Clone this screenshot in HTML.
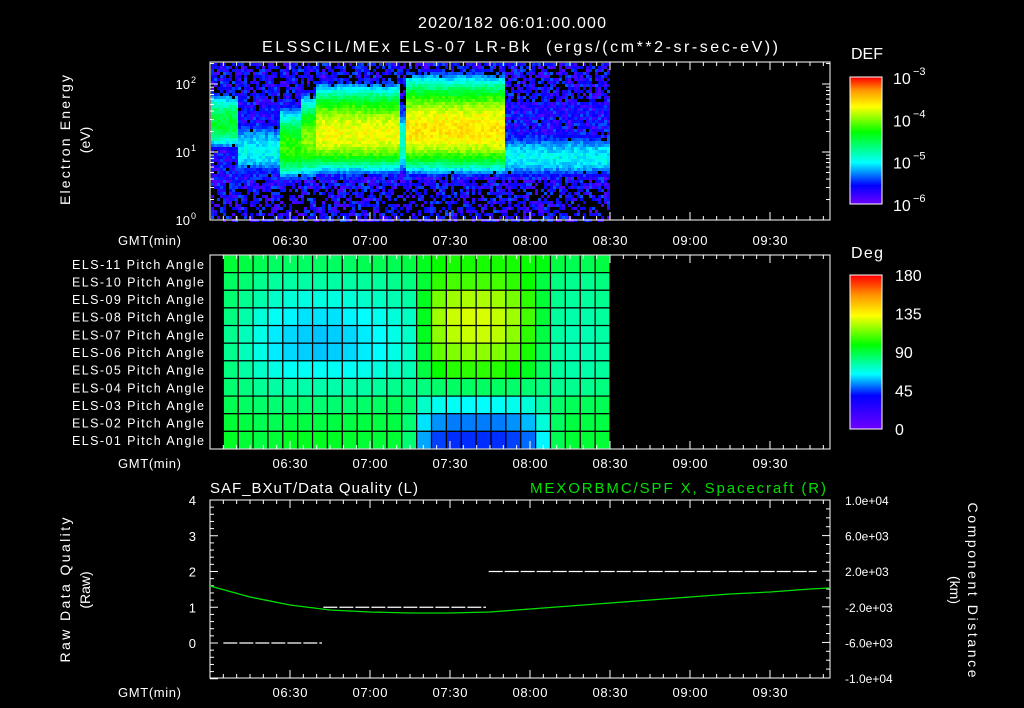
<!DOCTYPE html>
<html><head><meta charset="utf-8"><style>
html,body{margin:0;padding:0;background:#000;}
svg{display:block;font-family:"Liberation Sans",sans-serif;}
text{fill:#fff;}
</style></head><body>
<svg id="plot" width="1024" height="708" viewBox="0 0 1024 708">
<rect x="0" y="0" width="1024" height="708" fill="#000"/>
<text x="512" y="28" font-size="16" text-anchor="middle" textLength="188" lengthAdjust="spacing">2020/182 06:01:00.000</text>
<text x="520" y="52" font-size="16" text-anchor="middle" textLength="516" lengthAdjust="spacing" xml:space="preserve">ELSSCIL/MEx ELS-07 LR-Bk  (ergs/(cm**2-sr-sec-eV))</text>
<g id="p1"></g>
<g id="p2"></g>
<g id="p3"></g>
</svg>
<script>
// ---------- data ----------
const segStart = [0, 9.75, 10.1, 26.25, 33.75, 39.4, 71.25, 73.1, 110.6];
const segEnd   = [9.75, 10.1, 26.25, 33.75, 39.4, 71.25, 73.1, 110.6, 150];
const segCenter = [1.4, 1.3, 1.0, 1.05, 1.15, 1.25, 1.1, 1.3, 0.9];   // log10 eV
const segPeak   = [-4.4, -4.0, -5.0, -4.2, -4.0, -3.7, -4.8, -3.6, -5.0]; // log10 DEF
const segWidth  = [0.45, 0.8, 0.55, 0.55, 0.6, 0.6, 0.6, 0.65, 0.45];
const defTicks = [-3, -4, -5, -6];
const paLabels = ["ELS-11","ELS-10","ELS-09","ELS-08","ELS-07","ELS-06","ELS-05","ELS-04","ELS-03","ELS-02","ELS-01"];
const paRow11=[92,90,88,86,86,86,86,86,86,88,88,88,90,95,100,102,102,102,102,102,100,97,90,88,88,90];
const paRow10=[86,84,80,78,77,77,77,77,77,78,78,80,82,92,105,108,108,108,108,105,100,90,82,80,80,82];
const paRow09=[84,80,76,72,70,69,69,69,70,72,73,75,77,95,115,120,122,122,120,115,105,92,80,78,78,80];
const paRow08=[82,76,70,66,64,62,62,62,64,65,67,70,73,95,120,126,128,128,125,120,108,92,78,76,76,78];
const paRow07=[80,74,68,63,61,60,59,60,61,63,65,68,72,95,118,124,126,126,124,118,105,90,77,75,75,77];
const paRow06=[80,74,68,63,61,60,59,60,61,63,65,68,72,92,112,116,118,118,116,112,102,88,77,75,75,77];
const paRow05=[82,77,72,68,66,66,66,66,66,67,69,72,75,90,100,104,105,105,104,100,95,86,78,76,76,78];
const paRow04=[84,82,79,77,76,76,76,76,76,77,78,80,80,82,85,86,86,86,86,85,84,82,80,80,80,82];
const paRow03=[88,86,85,84,84,84,84,84,84,85,86,87,84,72,67,66,65,65,66,67,70,76,85,87,87,88];
const paRow02=[92,90,88,88,90,90,90,90,90,90,90,90,84,62,54,52,52,52,52,54,58,70,86,90,90,90];
const paRow01=[94,92,90,92,95,95,95,94,93,92,92,92,84,56,46,44,44,44,44,46,50,64,88,92,92,92];
const paRows=[paRow11,paRow10,paRow09,paRow08,paRow07,paRow06,paRow05,paRow04,paRow03,paRow02,paRow01];
const paStart = 5, paEnd = 150;
const paTicks = [0,45,90,135,180];
const dqStart = [5, 42.5, 104.5];
const dqEnd   = [42, 103.5, 227.5];
const dqValue = [0, 1, 2];
const scTimes = [0,15,30,45,60,75,90,105,120,135,150,165,180,195,210,225,232.5];
const scX = [337,-899,-1798,-2360,-2584,-2697,-2697,-2584,-2247,-1910,-1573,-1236,-899,-562,-337,0,112];
const timeLabels = ["06:30","07:00","07:30","08:00","08:30","09:00","09:30"];
const timeLabelMin = [30,60,90,120,150,180,210];
const leftTicks=[0,1,2,3,4];
const rightTicks=[1e4,6e3,2e3,-2e3,-6e3,-1e4];
const rightTickLabels=["1.0e+04","6.0e+03","2.0e+03","-2.0e+03","-6.0e+03","-1.0e+04"];

// ---------- helpers ----------
const NS="http://www.w3.org/2000/svg";
const X0=210, X1=830, TMAX=232.5;
const xs = m => X0 + m*(X1-X0)/TMAX;
function el(parent,tag,attrs,txt){const e=document.createElementNS(NS,tag);for(const k in attrs)e.setAttribute(k,attrs[k]);if(txt!==undefined)e.textContent=txt;parent.appendChild(e);return e;}
function cmap(t,stops){t=Math.max(0,Math.min(1,t));for(let i=1;i<stops.length;i++){if(t<=stops[i][0]){const a=stops[i-1],b=stops[i];const f=(t-a[0])/(b[0]-a[0]||1);const c=[0,1,2].map(j=>Math.round(a[1][j]+(b[1][j]-a[1][j])*f));return `rgb(${c[0]},${c[1]},${c[2]})`;}}const l=stops[stops.length-1][1];return `rgb(${l[0]},${l[1]},${l[2]})`;}
const stops1=[[0,[112,0,255]],[0.15,[0,0,255]],[0.33,[0,255,255]],[0.57,[0,255,0]],[0.77,[255,255,0]],[0.9,[255,150,0]],[1,[255,0,0]]];
const stops2=[[0,[112,0,255]],[0.22,[0,0,255]],[0.36,[0,255,255]],[0.55,[0,255,0]],[0.74,[255,255,0]],[0.87,[255,150,0]],[1,[255,0,0]]];
function hash(a,b){let h=(a*374761393+b*668265263)|0;h=(h^(h>>>13))*1274126177|0;h^=h>>>16;return (h>>>0)/4294967296;}
function timeAxis(g,top,bot,labY){
  for(let m=0;m<=TMAX;m+=5){const x=xs(m);const L=(m%30===0)?8:4;
    const t=el(g,'line',{x1:x,y1:top,x2:x,y2:top+L,stroke:'#fff'});
    
    
    const b=el(g,'line',{x1:x,y1:bot,x2:x,y2:bot-L,stroke:'#fff'});
    
    }
  timeLabels.forEach((s,i)=>{const t=el(g,'text',{x:xs(timeLabelMin[i]),y:labY,'font-size':13,'text-anchor':'middle',textLength:35,lengthAdjust:'spacing'},s);
    
    });
  const gl=el(g,'text',{x:181,y:labY,'font-size':13,'text-anchor':'end',textLength:63,lengthAdjust:'spacing'},'GMT(min)');
  
  
}

// ---------- panel 1 ----------
(function(){
  const g=document.getElementById('p1');
  const T=62,B=220;const ys=l=>B-l*68;
  const top=(B-T)/68;
  const pw=3,ph=3;
  for(let x=211;x<610;x+=pw){
    const m=(x-X0)*TMAX/(X1-X0);
    let s=segStart.findIndex((a,i)=>m>=a&&m<segEnd[i]); if(s<0) s=segStart.length-1;
    for(let y=T+1;y<B;y+=ph){
      const le=(B-(y+ph/2))/68;
      let d=(le-segCenter[s])/segWidth[s]; if(d<0) d*=1.35;
      let v=segPeak[s]-1.05*d*d;
      const h1=hash(x,y),h2=hash(y*7+1,x*3+5);
      const bg=-5.9+h1*0.55;
      if(v<bg) v=bg; else v+=(h1-0.5)*0.25;
      let pb=0.04; if(le<0.45) pb=0.45; else if(le<0.6) pb=0.2; else if(le>1.75) pb=0.3;
      if(v<-5.2 && h2<pb) continue;
      const r=el(g,'rect',{x:x,y:y,width:pw,height:ph,fill:cmap((v+6)/3,stops1)});
      
      
    }
  }
  const fr=el(g,'rect',{x:X0,y:T,width:X1-X0,height:B-T,fill:'none',stroke:'#fff'});
  
  
  for(let dec=0;dec<=2;dec++)for(let k=1;k<=9;k++){const l=dec+Math.log10(k);if(l>top)continue;const y=ys(l);const L=k===1?8:4;
    el(g,'line',{x1:X0,y1:y,x2:X0+L,y2:y,stroke:'#fff'});el(g,'line',{x1:X1,y1:y,x2:X1-L,y2:y,stroke:'#fff'});}
  [0,1,2].forEach(d=>{const t=el(g,'text',{x:190,y:ys(d)+5,'font-size':13,'text-anchor':'end'},'10');
    
    
    el(g,'text',{x:191,y:ys(d)-1,'font-size':9},String(d));});
  timeAxis(g,T,B,245);
  const yl=el(g,'text',{transform:'translate(70,140) rotate(-90)','font-size':14,'text-anchor':'middle',textLength:130,lengthAdjust:'spacing'},'Electron Energy');
  
  
  el(g,'text',{transform:'translate(90,140) rotate(-90)','font-size':14,'text-anchor':'middle'},'(eV)');
  const cT=77,cB=204;
  for(let y=cT;y<cB;y++){el(g,'rect',{x:850,y:y,width:32,height:1.2,fill:cmap((cB-y)/(cB-cT),stops1)});}
  el(g,'rect',{x:850,y:cT,width:32,height:cB-cT,fill:'none',stroke:'#fff'});
  defTicks.forEach(d=>{const y=cB-(d+6)/3*(cB-cT);
    const t=el(g,'text',{x:893,y:y+7,'font-size':16},'10');
    
    
    el(g,'text',{x:913,y:y-2,'font-size':11},String(d).replace('-','−'));});
  el(g,'text',{x:851,y:59,'font-size':16,textLength:32,lengthAdjust:'spacing'},'DEF');
})();

// ---------- panel 2 ----------
(function(){
  const g=document.getElementById('p2');
  const T=255,B=449;const nr=paRows.length,nc=paRows[0].length;
  const rh=(B-T)/nr; const cw=(xs(paEnd)-xs(paStart))/nc;
  paRows.forEach((row,r)=>row.forEach((v,c)=>{
    const cell=el(g,'rect',{x:xs(paStart)+c*cw,y:T+r*rh,width:cw,height:rh,fill:cmap(v/180,stops2),stroke:'#000','stroke-width':1.2});
    
    
  }));
  el(g,'rect',{x:X0,y:T,width:X1-X0,height:B-T,fill:'none',stroke:'#fff'});
  paLabels.forEach((s,r)=>{const t=el(g,'text',{x:204,y:T+r*rh+rh/2+5,'font-size':12.5,'text-anchor':'end',textLength:132,lengthAdjust:'spacing'},s+' Pitch Angle');
    
    });
  timeAxis(g,T,B,468);
  const cT=275,cB=429;
  for(let y=cT;y<cB;y++){el(g,'rect',{x:850,y:y,width:32,height:1.2,fill:cmap((cB-y)/(cB-cT),stops2)});}
  el(g,'rect',{x:850,y:cT,width:32,height:cB-cT,fill:'none',stroke:'#fff'});
  paTicks.forEach(v=>{const y=cB-v/180*(cB-cT);const t=el(g,'text',{x:895,y:y+6,'font-size':16},String(v));
    
    });
  el(g,'text',{x:851,y:258,'font-size':16,textLength:32,lengthAdjust:'spacing'},'Deg');
})();

// ---------- panel 3 ----------
(function(){
  const g=document.getElementById('p3');
  const T=500,B=678;const yl=v=>643-v*35.75;const yr=v=>B-(v+1e4)/2e4*(B-T);
  el(g,'rect',{x:X0,y:T,width:X1-X0,height:B-T,fill:'none',stroke:'#fff'});
  for(let v=-1;v<=4.001;v+=0.2){const y=yl(v);const L=Math.abs(v-Math.round(v))<0.01?8:4;el(g,'line',{x1:X0,y1:y,x2:X0+L,y2:y,stroke:'#fff'});}
  for(let v=-1e4;v<=1e4;v+=1000){const y=yr(v);const L=(v%4000===2000||v%4000===-2000||Math.abs(v)===1e4)?8:4;el(g,'line',{x1:X1,y1:y,x2:X1-L,y2:y,stroke:'#fff'});}
  leftTicks.forEach(v=>{const t=el(g,'text',{x:196,y:yl(v)+5,'font-size':13,'text-anchor':'end'},String(v));
    
    });
  rightTicks.forEach((v,i)=>{const t=el(g,'text',{x:845,y:yr(v)+5,'font-size':12},rightTickLabels[i]);
    
    });
  timeAxis(g,T,B,697);
  dqValue.forEach((v,i)=>{const l=el(g,'line',{x1:xs(dqStart[i]),y1:yl(v),x2:xs(dqEnd[i]),y2:yl(v),stroke:'#fff','stroke-width':1.3,'stroke-dasharray':'14 2'});
    
    });
  const pts=scTimes.map((t,i)=>xs(t).toFixed(1)+','+yr(scX[i]).toFixed(1)).join(' ');
  const pl=el(g,'polyline',{points:pts,fill:'none',stroke:'#00e000','stroke-width':1.3});
  
  
  const h1=el(g,'text',{x:210,y:493,'font-size':15,textLength:208,lengthAdjust:'spacing'},'SAF_BXuT/Data Quality (L)');
  
  
  const h2=el(g,'text',{x:530,y:493,'font-size':15,textLength:296,lengthAdjust:'spacing',style:'fill:#00e000'},'MEXORBMC/SPF X, Spacecraft (R)');
  
  
  const a=el(g,'text',{transform:'translate(70,590) rotate(-90)','font-size':14,'text-anchor':'middle',textLength:145,lengthAdjust:'spacing'},'Raw Data Quality');
  
  
  el(g,'text',{transform:'translate(90,590) rotate(-90)','font-size':14,'text-anchor':'middle'},'(Raw)');
  const b=el(g,'text',{transform:'translate(968,590) rotate(90)','font-size':14,'text-anchor':'middle',textLength:175,lengthAdjust:'spacing'},'Component Distance');
  
  
  el(g,'text',{transform:'translate(950,590) rotate(90)','font-size':14,'text-anchor':'middle'},'(km)');
})();
</script>
</body></html>
